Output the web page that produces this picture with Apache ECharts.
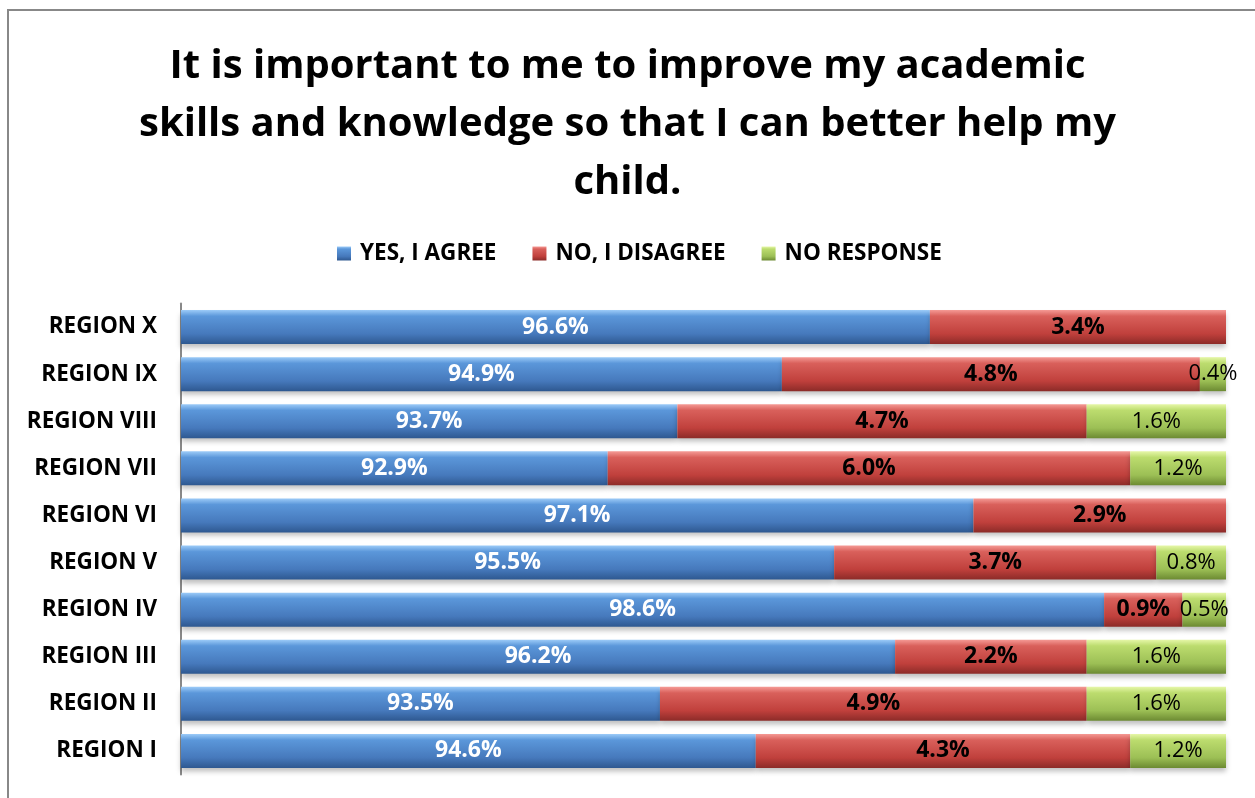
<!DOCTYPE html>
<html>
<head>
<meta charset="utf-8">
<script src="https://cdn.jsdelivr.net/npm/echarts@6/dist/echarts.min.js"></script>
<style>
html,body{margin:0;padding:0;background:#fff;}
#chart{width:1255px;height:798px;}
</style>
</head>
<body>
<div id="chart"></div>
<script>
const categories = ['REGION I','REGION II','REGION III','REGION IV','REGION V','REGION VI','REGION VII','REGION VIII','REGION IX','REGION X'];
const seriesNames = ['YES, I AGREE','NO, I DISAGREE','NO RESPONSE'];
const agree    = [94.6, 93.5, 96.2, 98.6, 95.5, 97.1, 92.9, 93.7, 94.9, 96.6];
const disagree = [4.3, 4.9, 2.2, 0.9, 3.7, 2.9, 6.0, 4.7, 4.8, 3.4];
const noResp   = [1.2, 1.6, 1.6, 0.5, 0.8, null, 1.2, 1.6, 0.4, null];

const FONT = '"Open Sans", "Liberation Sans", sans-serif';
function grad(c0, c1, c2, c3) {
  return new echarts.graphic.LinearGradient(0, 0, 0, 1, [
    {offset: 0, color: c0},
    {offset: 0.18, color: c1},
    {offset: 0.7, color: c2},
    {offset: 1, color: c3}
  ]);
}
const blueG  = grad('#9CCBF8', '#5B97DA', '#4679BC', '#2E5890');
const redG   = grad('#F59A95', '#D9605B', '#C0403C', '#8C2B28');
const greenG = grad('#E6F7A8', '#BCDC6E', '#9CBF55', '#6C8A32');

const chart = echarts.init(document.getElementById('chart'));
const barCommon = {
  type: 'bar',
  stack: 'total',
  barWidth: 34,
  clip: true
};
const shadow = {shadowColor: 'rgba(0,0,0,0.25)', shadowBlur: 5, shadowOffsetY: 4};
chart.setOption({
  animation: false,
  title: {
    text: 'It is important to me to improve my academic\nskills and knowledge so that I can better help my\nchild.',
    left: 'center',
    top: 33,
    textStyle: {fontFamily: FONT, fontWeight: 'bold', fontSize: 40, lineHeight: 58, color: '#000'}
  },
  legend: {
    top: 237,
    left: 332,
    itemWidth: 14,
    itemHeight: 14,
    itemGap: 36,
    icon: 'rect',
    textStyle: {fontFamily: FONT, fontWeight: 'bold', fontSize: 22.5, color: '#000', padding: [0, 0, 0, 4]},
    data: seriesNames
  },
  grid: {left: 181, right: 29, top: 303.5, bottom: 23.5, containLabel: false},
  xAxis: {
    type: 'value', min: 88, max: 100, show: false
  },
  yAxis: {
    type: 'category',
    data: categories,
    axisLine: {show: true, lineStyle: {color: '#888', width: 2}},
    axisTick: {show: false},
    axisLabel: {fontFamily: FONT, fontWeight: 'bold', fontSize: 22.5, color: '#000', margin: 24}
  },
  graphic: [{
    type: 'rect', shape: {x: 8, y: 10, width: 1300, height: 900},
    style: {fill: 'none', stroke: '#888', lineWidth: 2}, silent: true, z: -1
  }],
  series: [
    Object.assign({}, barCommon, {
      name: seriesNames[0], data: agree,
      itemStyle: Object.assign({color: blueG}, shadow),
      label: {show: true, position: 'inside', formatter: p => p.value.toFixed(1) + '%',
        fontFamily: FONT, fontWeight: 'bold', fontSize: 23, color: '#fff'}
    }),
    Object.assign({}, barCommon, {
      name: seriesNames[1], data: disagree,
      itemStyle: Object.assign({color: redG}, shadow),
      label: {show: true, position: 'inside', formatter: p => p.value.toFixed(1) + '%',
        fontFamily: FONT, fontWeight: 'bold', fontSize: 23, color: '#000'}
    }),
    Object.assign({}, barCommon, {
      name: seriesNames[2], data: noResp,
      itemStyle: Object.assign({color: greenG}, shadow),
      label: {show: true, position: 'inside', formatter: p => p.value.toFixed(1) + '%',
        fontFamily: FONT, fontWeight: 'normal', fontSize: 22, color: '#000'}
    })
  ]
});
</script>
</body>
</html>
